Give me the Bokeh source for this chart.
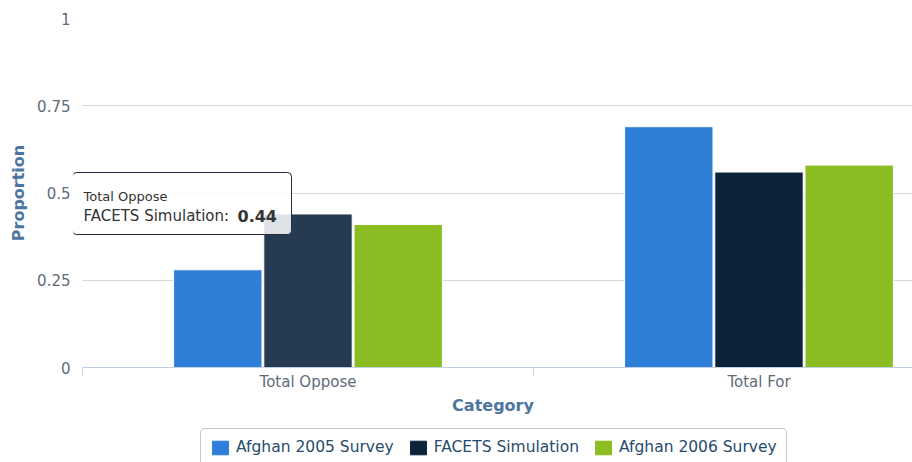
from bokeh.plotting import figure
from bokeh.layouts import column
from bokeh.models import (Range1d, FixedTicker, ColumnDataSource, Legend, LegendItem,
                          Label, BoxAnnotation)
from bokeh.transform import dodge
from bokeh.embed import file_html
from bokeh.resources import INLINE

categories = ["Total Oppose", "Total For"]
series_names = ["Afghan 2005 Survey", "FACETS Simulation", "Afghan 2006 Survey"]
afghan_2005 = [0.28, 0.69]
facets_sim = [0.44, 0.56]
afghan_2006 = [0.41, 0.58]
y_ticks = [0, 0.25, 0.5, 0.75, 1]
y_tick_labels = ["0", "0.25", "0.5", "0.75", "1"]

colors = ["#2f7ed8", "#0d233a", "#8bbc21"]
hover_color = "#263b52"   # highlighted (hovered) bar

FONT = "DejaVu Sans"
LABEL_COLOR = "#5f6b7a"
TITLE_COLOR = "#4d759e"

x_pos = [i + 0.5 for i in range(len(categories))]
src = ColumnDataSource(dict(
    x=x_pos, cat=categories,
    a05=afghan_2005, fac=facets_sim, a06=afghan_2006,
    fac_color=[hover_color, colors[1]],
))

x_end = 830 / 451
p = figure(width=912, height=423, output_backend="svg", toolbar_location=None,
           x_range=Range1d(-9 / 451, x_end), y_range=Range1d(0, 1),
           min_border_left=73, min_border_right=0, min_border_top=18, min_border_bottom=56)
p.outline_line_color = None
p.background_fill_color = "white"
p.border_fill_color = "white"

bw = 0.196
r1 = p.vbar(x=dodge("x", -0.2, range=p.x_range), top="a05", width=bw, source=src,
            fill_color=colors[0], line_color="white", line_width=1)
r2 = p.vbar(x=dodge("x", 0.0, range=p.x_range), top="fac", width=bw, source=src,
            fill_color="fac_color", line_color="white", line_width=1)
r3 = p.vbar(x=dodge("x", 0.2, range=p.x_range), top="a06", width=bw, source=src,
            fill_color=colors[2], line_color="white", line_width=1)

# x axis
xa = p.xaxis[0]
xa.bounds = (0, x_end)
xa.ticker = FixedTicker(ticks=x_pos, minor_ticks=list(range(len(categories) + 1)))
xa.major_label_overrides = {x: c for x, c in zip(x_pos, categories)}
xa.major_tick_out = 0
xa.major_tick_in = 0
xa.minor_tick_out = 8
xa.minor_tick_in = 0
xa.minor_tick_line_color = "#C0D0E0"
xa.axis_line_color = "#C0D0E0"
xa.major_label_standoff = -3
xa.major_label_text_font = FONT
xa.major_label_text_font_size = "15px"
xa.major_label_text_color = LABEL_COLOR
xa.axis_label = "Category"
xa.axis_label_text_font = FONT
xa.axis_label_text_font_size = "16px"
xa.axis_label_text_font_style = "bold"
xa.axis_label_text_color = TITLE_COLOR
xa.axis_label_standoff = 2

# y axis
ya = p.yaxis[0]
ya.ticker = FixedTicker(ticks=y_ticks)
ya.major_label_overrides = {t: l for t, l in zip(y_ticks, y_tick_labels)}
ya.axis_line_color = None
ya.major_tick_line_color = None
ya.minor_tick_line_color = None
ya.major_tick_out = 0
ya.major_tick_in = 0
ya.minor_tick_out = 0
ya.minor_tick_in = 0
ya.major_label_standoff = 3
ya.major_label_text_font = FONT
ya.major_label_text_font_size = "15px"
ya.major_label_text_color = LABEL_COLOR
ya.axis_label = "Proportion"
ya.axis_label_text_font = FONT
ya.axis_label_text_font_size = "16px"
ya.axis_label_text_font_style = "bold"
ya.axis_label_text_color = TITLE_COLOR
ya.axis_label_standoff = 6

p.xgrid.grid_line_color = None
p.ygrid.grid_line_color = "#D8D8D8"
p.ygrid.grid_line_width = 1

# keep the plot area visually starting at the first category band
p.add_layout(BoxAnnotation(right=0, fill_color="white", fill_alpha=1, line_color=None))

# tooltip (hover state of FACETS Simulation / Total Oppose)
p.add_layout(BoxAnnotation(left=-10 / 451, right=209 / 451, bottom=133 / 349, top=195 / 349,
                           fill_color="white", fill_alpha=0.85,
                           line_color="#1f2d3d", line_alpha=1, line_width=1, border_radius=4))
p.add_layout(Label(x=1 / 451, y=0.490, text=categories[0], text_font=FONT,
                   text_font_size="13px", text_color="#333333", text_baseline="middle"))
p.add_layout(Label(x=1 / 451, y=0.4327, text=series_names[1] + ":", text_font=FONT,
                   text_font_size="15px", text_color="#333333", text_baseline="middle"))
p.add_layout(Label(x=155 / 451, y=0.4327, text=f"{facets_sim[0]:.2f}", text_font=FONT,
                   text_font_size="16px", text_font_style="bold", text_color="#333333",
                   text_baseline="middle"))

# legend strip (separate figure beneath; its bars fall outside its range)
lg = figure(width=912, height=39, output_backend="svg", toolbar_location=None,
            x_range=Range1d(0, 2), y_range=Range1d(10, 11),
            min_border_left=0, min_border_right=0, min_border_top=0, min_border_bottom=0)
lg.axis.visible = False
lg.grid.visible = False
lg.outline_line_color = None
lg.border_fill_color = "white"
lr = [lg.vbar(x="x", top=col, width=0.1, source=src, fill_color=c, line_color=c)
      for col, c in zip(["a05", "fac", "a06"], colors)]
legend = Legend(items=[LegendItem(label=n, renderers=[r]) for n, r in zip(series_names, lr)],
                orientation="horizontal", location=(127, -4),
                border_line_color="#909090", border_line_width=1, border_radius=5,
                background_fill_color="white", background_fill_alpha=1,
                label_text_font=FONT, label_text_font_size="15.5px", label_text_color="#274b6d",
                glyph_width=20, glyph_height=17, spacing=14, padding=9, margin=0,
                label_standoff=6)
lg.add_layout(legend, "center")

open("out.html", "w").write(file_html(column(p, lg, spacing=0), INLINE))
